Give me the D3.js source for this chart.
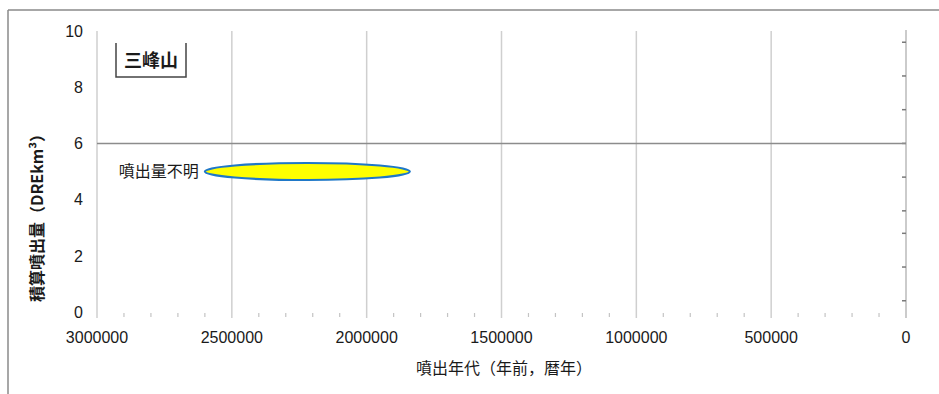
<!DOCTYPE html>
<html><head><meta charset="utf-8">
<script src="https://cdn.jsdelivr.net/npm/d3@7"></script>
<style>
html,body{margin:0;padding:0;background:#fff;}
svg{display:block;}
</style></head>
<body>
<script>
// ---- data ----
const xTicks = [3000000, 2500000, 2000000, 1500000, 1000000, 500000, 0];
const xMinorTicks = d3.range(0, 3000001, 100000).filter(v => v % 500000 !== 0);
const yTicks = [0, 2, 4, 6, 8, 10];
const refLineValues = [6];
const rightAxisTicks = [9.6, 8.4, 7.2, 6.0, 4.8, 3.6, 2.8, 1.6, 0.4];
const eruptionNames = ["三峰山"];
const eruptionAgeOld = [2600000];
const eruptionAgeYoung = [1840000];
const eruptionVolume = [5];
const eruptionNotes = ["噴出量不明"];
const xTitle = "噴出年代（年前，暦年）";
const yTitle = "積算噴出量（DREkm³）";

const W = 939, H = 394;
const svg = d3.select("body").append("svg").attr("width", W).attr("height", H);

const x = d3.scaleLinear().domain([3000000, 0]).range([97, 906]);
const y = d3.scaleLinear().domain([0, 10]).range([312, 31]);

// outer frame (left & top visible)
svg.append("line").attr("x1", 8).attr("x2", 8).attr("y1", 10).attr("y2", H)
  .attr("stroke", "#8a8a8a").attr("stroke-width", 1.5);
svg.append("line").attr("x1", 8).attr("x2", W).attr("y1", 10).attr("y2", 10)
  .attr("stroke", "#8a8a8a").attr("stroke-width", 1.5);

// vertical gridlines
svg.append("g").selectAll("line").data(xTicks.filter(v => v !== 0)).join("line")
  .attr("x1", d => x(d)).attr("x2", d => x(d))
  .attr("y1", y(10)).attr("y2", y(0) + 6)
  .attr("stroke", "#cfcfcf").attr("stroke-width", 1.5);

// minor ticks at bottom
svg.append("g").selectAll("line").data(xMinorTicks).join("line")
  .attr("x1", d => x(d)).attr("x2", d => x(d))
  .attr("y1", y(0) + 1).attr("y2", y(0) + 5)
  .attr("stroke", "#c4c4c4").attr("stroke-width", 1.2);

// right axis line
svg.append("line").attr("x1", x(0)).attr("x2", x(0)).attr("y1", y(10) - 1).attr("y2", y(0) + 6)
  .attr("stroke", "#cbcbcb").attr("stroke-width", 2);
svg.append("g").selectAll("line").data(rightAxisTicks).join("line")
  .attr("x1", x(0) - 4).attr("x2", x(0))
  .attr("y1", d => y(d)).attr("y2", d => y(d))
  .attr("stroke", "#7a7a7a").attr("stroke-width", 1.5);

// reference line at 6
svg.append("g").selectAll("line").data(refLineValues).join("line")
  .attr("x1", x(3000000)).attr("x2", x(0))
  .attr("y1", d => y(d)).attr("y2", d => y(d))
  .attr("stroke", "#8c8c8c").attr("stroke-width", 1.5);

// y tick labels
svg.append("g").selectAll("text").data(yTicks).join("text")
  .attr("x", 83).attr("y", d => y(d)).attr("dy", "0.36em")
  .attr("text-anchor", "end")
  .attr("font-family", "'Liberation Sans', Arial, sans-serif").attr("font-size", 16)
  .attr("fill", "#1a1a1a").text(d => d);

// x tick labels
svg.append("g").selectAll("text").data(xTicks).join("text")
  .attr("x", d => x(d)).attr("y", 343)
  .attr("text-anchor", "middle")
  .attr("font-family", "'Liberation Sans', Arial, sans-serif").attr("font-size", 16)
  .attr("fill", "#1a1a1a").text(d => d);

// axis titles
svg.append("text").attr("x", 504).attr("y", 374).attr("text-anchor", "middle")
  .attr("font-family", "'Noto Sans CJK JP', sans-serif").attr("font-size", 16)
  .attr("fill", "#1a1a1a").text(xTitle);
svg.append("text").attr("transform", "translate(43,214) rotate(-90)")
  .attr("text-anchor", "middle")
  .attr("font-family", "'Noto Sans CJK JP', sans-serif").attr("font-size", 16).attr("font-weight", "bold")
  .attr("fill", "#1a1a1a").text(yTitle);

// eruption ellipse(s)
const eru = eruptionNames.map((n, i) => ({name: n, old: eruptionAgeOld[i], young: eruptionAgeYoung[i], v: eruptionVolume[i], note: eruptionNotes[i]}));
const eg = svg.append("g");
eg.selectAll("ellipse").data(eru).join("ellipse")
  .attr("cx", d => (x(d.old) + x(d.young)) / 2)
  .attr("cy", d => y(d.v))
  .attr("rx", d => (x(d.young) - x(d.old)) / 2)
  .attr("ry", 8.5)
  .attr("fill", "#ffff00").attr("stroke", "#1f78c8").attr("stroke-width", 2.2);
eg.selectAll("text").data(eru).join("text")
  .attr("x", d => x(d.old) - 6).attr("y", d => y(d.v)).attr("dy", "0.36em")
  .attr("text-anchor", "end")
  .attr("font-family", "'Noto Sans CJK JP', sans-serif").attr("font-size", 16)
  .attr("fill", "#1a1a1a").text(d => d.note);

// legend label box
const lg = svg.append("g");
lg.append("path").attr("d", "M116,43 V77 H186 V43")
  .attr("fill", "none").attr("stroke", "#444").attr("stroke-width", 1.5);
lg.append("text").attr("x", 151).attr("y", 61).attr("dy", "0.36em").attr("text-anchor", "middle")
  .attr("font-family", "'Noto Sans CJK JP', sans-serif").attr("font-size", 18).attr("font-weight", "bold")
  .attr("fill", "#1a1a1a").text(eruptionNames[0]);
</script>
</body></html>
